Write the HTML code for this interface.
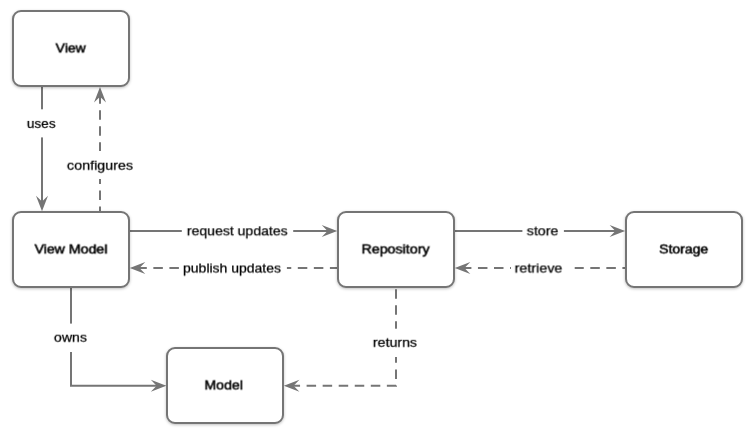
<!DOCTYPE html>
<html>
<head>
<meta charset="utf-8">
<style>
html,body{margin:0;padding:0;background:#fff;}
body{width:755px;height:438px;overflow:hidden;position:relative;font-family:"Liberation Sans",sans-serif;}
svg{position:absolute;left:0;top:0;}
.box{position:absolute;box-sizing:border-box;width:118px;height:77px;border:2px solid #757575;border-radius:9px;background:#fff;box-shadow:0 1px 3px rgba(0,0,0,0.25);}
.t,.b{position:absolute;left:0;top:0;transform-origin:0 0;will-change:transform;line-height:16px;white-space:nowrap;}
.t{font-size:13px;color:#000;-webkit-text-stroke:0.25px #000;}
.b{font-size:12.5px;font-weight:normal;color:#000;-webkit-text-stroke:0.5px #000;}
</style>
</head>
<body>
<svg width="755" height="438" viewBox="0 0 755 438">
  <g stroke="#757575" stroke-width="2" fill="none">
    <path d="M42,86 V203"/>
    <path d="M100,94.2 V212" stroke-dasharray="9.5 6.55"/>
    <path d="M129,231 H329"/>
    <path d="M137.3,268 H338" stroke-dasharray="9.5 6.55"/>
    <path d="M454,231 H617"/>
    <path d="M461.9,268 H626" stroke-dasharray="9.5 6.55"/>
    <path d="M71,287 V385.8 H158"/>
    <path d="M396,289.15 V385.8 H291" stroke-dasharray="9.5 6.55"/>
  </g>
  <g fill="#fff">
    <rect x="30" y="109.3" width="24" height="28.1"/>
    <rect x="88" y="151" width="24" height="28"/>
    <rect x="181.8" y="222" width="111.4" height="18"/>
    <rect x="179.2" y="259" width="107.7" height="18"/>
    <rect x="522.4" y="222" width="41.5" height="18"/>
    <rect x="511" y="259" width="63.6" height="18"/>
    <rect x="59" y="323.6" width="24" height="28.4"/>
    <rect x="384" y="328.7" width="24" height="28.3"/>
  </g>
  <path d="M0,0 L-15.5,-6 L-9.7,0 L-15.5,6 Z" fill="#757575" transform="translate(42,211.2) rotate(90)"/>
  <path d="M0,0 L-15.5,-6 L-9.7,0 L-15.5,6 Z" fill="#757575" transform="translate(100,87.1) rotate(-90)"/>
  <path d="M0,0 L-15.5,-6 L-9.7,0 L-15.5,6 Z" fill="#757575" transform="translate(337.2,231)"/>
  <path d="M0,0 L-15.5,-6 L-9.7,0 L-15.5,6 Z" fill="#757575" transform="translate(129.8,268) rotate(180)"/>
  <path d="M0,0 L-15.5,-6 L-9.7,0 L-15.5,6 Z" fill="#757575" transform="translate(625.1,231)"/>
  <path d="M0,0 L-15.5,-6 L-9.7,0 L-15.5,6 Z" fill="#757575" transform="translate(454.8,268) rotate(180)"/>
  <path d="M0,0 L-15.5,-6 L-9.7,0 L-15.5,6 Z" fill="#757575" transform="translate(166.3,385.8)"/>
  <path d="M0,0 L-15.5,-6 L-9.7,0 L-15.5,6 Z" fill="#757575" transform="translate(283.9,385.8) rotate(180)"/>
</svg>
<div class="box" style="left:12px;top:10px;"></div>
<div class="box" style="left:12px;top:211px;"></div>
<div class="box" style="left:337px;top:211px;"></div>
<div class="box" style="left:625px;top:211px;"></div>
<div class="box" style="left:166px;top:347px;"></div>

<div class="b" id="bView" style="transform:translate(55.7px,40.45px) rotate(0.03deg) scaleX(1.118);">View</div>
<div class="b" id="bViewModel" style="transform:translate(34.5px,241.45px) rotate(0.03deg) scaleX(1.134);">View Model</div>
<div class="b" id="bRepository" style="transform:translate(361.5px,241.45px) rotate(0.03deg) scaleX(1.138);">Repository</div>
<div class="b" id="bStorage" style="transform:translate(659.3px,241.45px) rotate(0.03deg) scaleX(1.116);">Storage</div>
<div class="b" id="bModel" style="transform:translate(204.4px,377.45px) rotate(0.03deg) scaleX(1.134);">Model</div>

<div class="t" id="tuses" style="transform:translate(26.9px,115.9px) rotate(0.03deg) scaleX(1.042);">uses</div>
<div class="t" id="tconfigures" style="transform:translate(67.0px,157.7px) rotate(0.03deg) scaleX(1.1);">configures</div>
<div class="t" id="trequest" style="transform:translate(186.9px,223.3px) rotate(0.03deg) scaleX(1.08);">request updates</div>
<div class="t" id="tpublish" style="transform:translate(183.1px,260.5px) rotate(0.03deg) scaleX(1.075);">publish updates</div>
<div class="t" id="tstore" style="transform:translate(526.8px,223.3px) rotate(0.03deg) scaleX(1.09);">store</div>
<div class="t" id="tretrieve" style="transform:translate(514.7px,260.5px) rotate(0.03deg) scaleX(1.1);">retrieve</div>
<div class="t" id="towns" style="transform:translate(54.0px,329.7px) rotate(0.03deg) scaleX(1.083);">owns</div>
<div class="t" id="treturns" style="transform:translate(372.9px,334.8px) rotate(0.03deg) scaleX(1.09);">returns</div>
</body>
</html>
